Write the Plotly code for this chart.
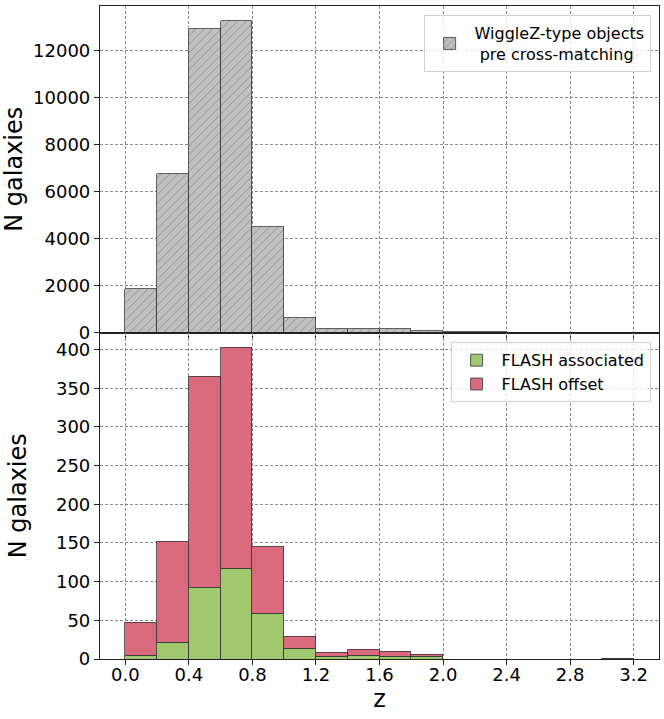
import plotly.graph_objects as go
from plotly.subplots import make_subplots

# left edges of the redshift bins (width 0.2)
bin_left = [0.0, 0.2, 0.4, 0.6, 0.8, 1.0, 1.2, 1.4, 1.6, 1.8, 2.0, 2.2, 2.4, 2.6, 2.8, 3.0]
bin_width = 0.2

# WiggleZ-type objects before cross-matching
wigglez_counts = [1870, 6740, 12930, 13260, 4480, 635, 170, 170, 165, 80, 35, 30, 0, 0, 0, 0]

# FLASH sources
flash_assoc = [5, 21, 92, 117, 59, 14, 3, 5, 3, 3, 0, 0, 0, 0, 0, 1]
flash_offset = [42, 131, 273, 285, 86, 15, 5, 7, 7, 3, 0, 0, 0, 0, 0, 0]

x_ticks = [0.0, 0.4, 0.8, 1.2, 1.6, 2.0, 2.4, 2.8, 3.2]

centers = [b + bin_width / 2 for b in bin_left]

fig = make_subplots(rows=2, cols=1, shared_xaxes=True, vertical_spacing=0)

fig.add_trace(go.Bar(
    x=centers, y=wigglez_counts, width=bin_width,
    name="WiggleZ-type objects<br> pre cross-matching",
    marker=dict(color="#c0c0c0",
                line=dict(color="#3a3a3a", width=0.8),
                pattern=dict(shape="/", fgcolor="#555555", bgcolor="#c0c0c0",
                             size=6, solidity=0.15)),
    legend="legend", showlegend=True,
), row=1, col=1)

fig.add_trace(go.Bar(
    x=centers, y=flash_assoc, width=bin_width, name="FLASH associated",
    marker=dict(color="#9fc86f", line=dict(color="#3a3a3a", width=0.8)),
    legend="legend2", showlegend=True,
), row=2, col=1)

fig.add_trace(go.Bar(
    x=centers, y=flash_offset, width=bin_width, name="FLASH offset",
    marker=dict(color="#dc6a7f", line=dict(color="#3a3a3a", width=0.8)),
    legend="legend2", showlegend=True,
), row=2, col=1)

grid = dict(showgrid=True, gridcolor="#8a8a8a", gridwidth=0.8, griddash="3px,2px",
            showline=True, linecolor="#222", linewidth=1.2, mirror=True,
            ticks="outside", ticklen=5, tickcolor="#222", zeroline=False,
            automargin=False, tickfont=dict(size=18, color="black"))

fig.update_xaxes(**grid, range=[-0.16, 3.36], tickvals=x_ticks,
                 tickformat=".1f")
fig.update_xaxes(showticklabels=False, row=1, col=1)
fig.update_xaxes(title=dict(text="z", font=dict(size=24, color="black"), standoff=2),
                 ticklabelstandoff=-6, row=2, col=1)

fig.update_yaxes(**grid)
fig.update_yaxes(range=[0, 13912], dtick=2000, tickformat="d",
                 title=dict(text="N galaxies", font=dict(size=24, color="black"), standoff=6),
                 row=1, col=1)
fig.update_yaxes(range=[0, 422], dtick=50, tickformat="d",
                 title=dict(text="N galaxies", font=dict(size=24, color="black"), standoff=22),
                 row=2, col=1)

fig.update_layout(
    width=664, height=719,
    margin=dict(l=100, r=5, t=6, b=60),
    barmode="stack", bargap=0, showlegend=True,
    plot_bgcolor="white", paper_bgcolor="white",
    font=dict(family="DejaVu Sans", color="black"),
    legend=dict(x=0.985, y=0.986, xanchor="right", yanchor="top",
                bordercolor="#d0d0d0", borderwidth=1, bgcolor="rgba(255,255,255,0.8)",
                font=dict(size=16), itemwidth=40),
    legend2=dict(x=0.985, y=0.485, xanchor="right", yanchor="top",
                 bordercolor="#d0d0d0", borderwidth=1, bgcolor="rgba(255,255,255,0.8)",
                 font=dict(size=16), itemwidth=40, traceorder="normal"),
)

# drop the browser's default body margin so the figure sits at the page corner
fig.write_html("out.html", config={"displayModeBar": False},
               post_script="document.body.style.margin='0';")
